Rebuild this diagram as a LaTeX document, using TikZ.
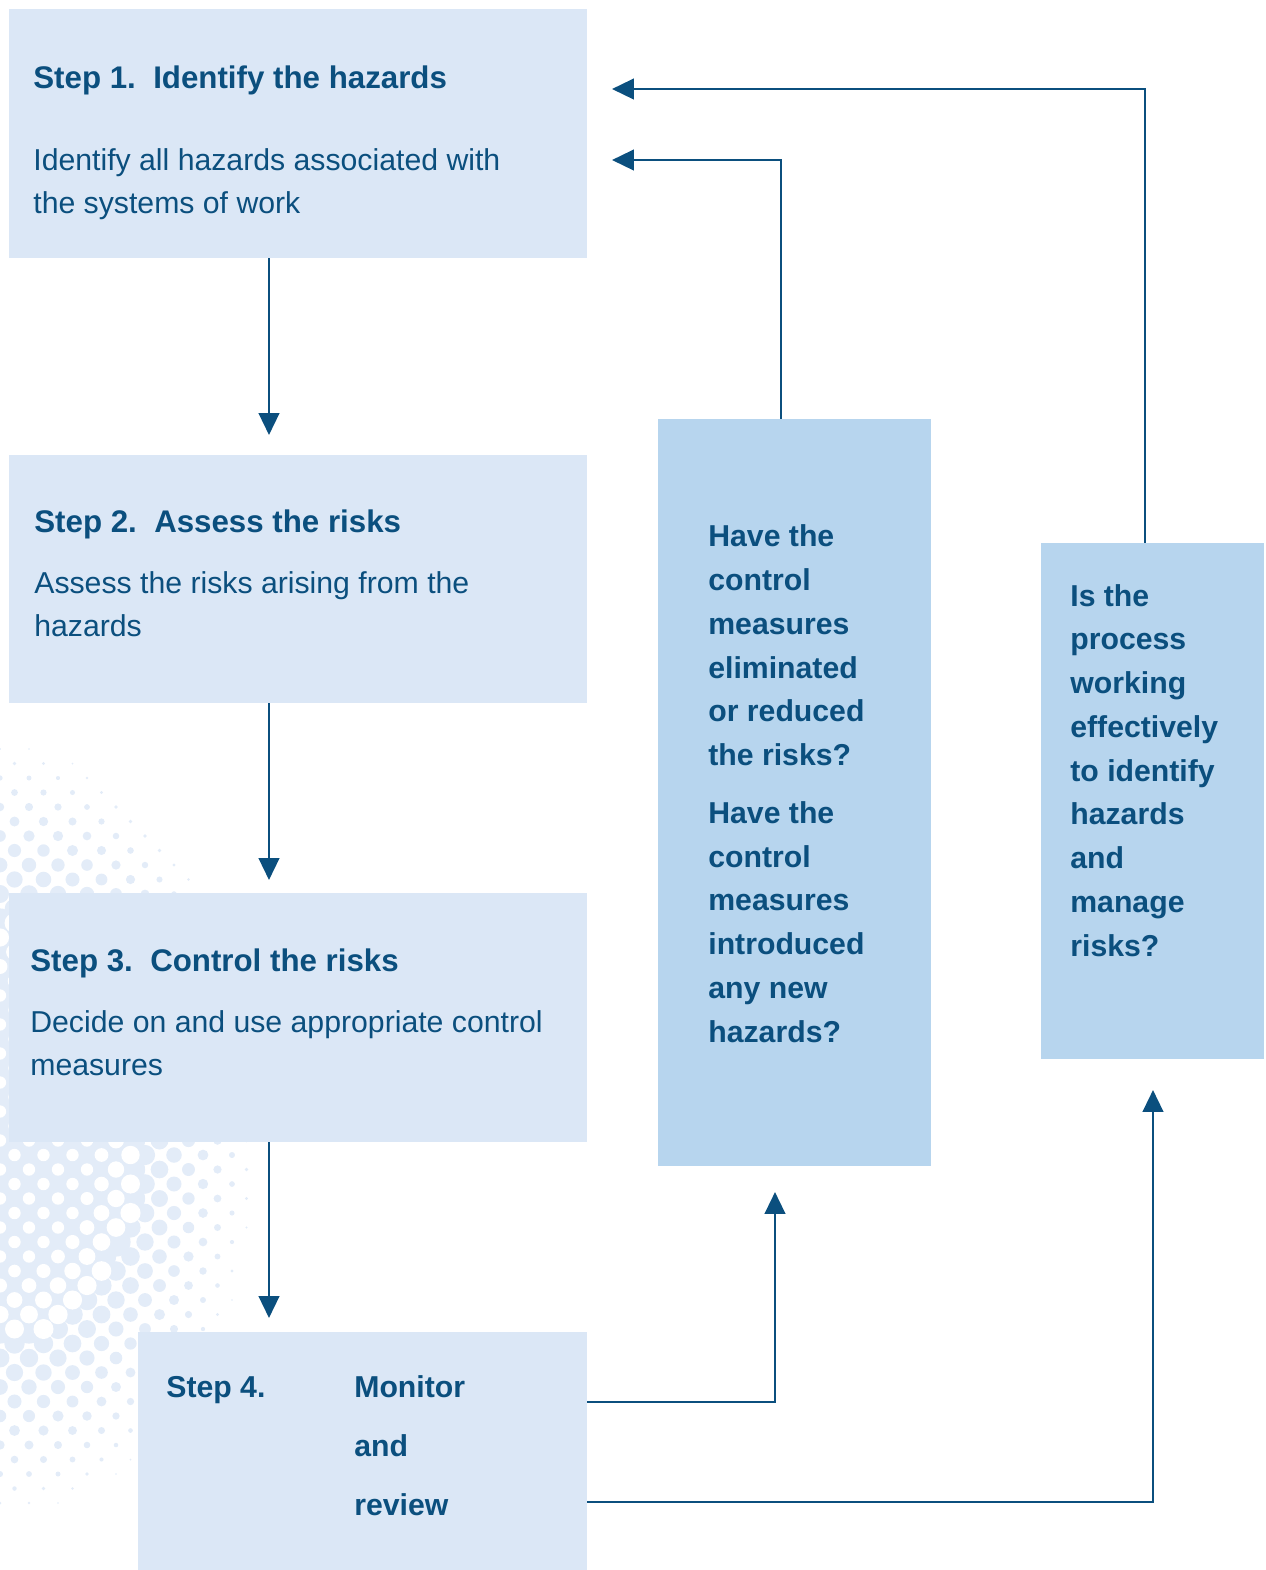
\documentclass[tikz,border=0pt]{standalone}
\usepackage{fontspec}
\setmainfont{Liberation Sans}
\usepackage{xcolor}
\usepackage{tikz}
\usetikzlibrary{backgrounds,arrows.meta,fit}
\definecolor{rkNavy}{HTML}{0B4F7E}
\definecolor{rkPale}{HTML}{DBE7F6}
\definecolor{rkBlue}{HTML}{B7D5EE}
\definecolor{rkDot}{HTML}{E3ECF8}

\begin{document}
\begin{tikzpicture}[
  x=0.02cm, y=-0.02cm,
  stepbox/.style={fill=rkPale, inner sep=0pt, draw=none},
  checkbox/.style={fill=rkBlue, inner sep=0pt, draw=none},
  stitle/.style={anchor=base west, inner sep=0pt, text=rkNavy, font=\fontsize{17.8}{24.4}\selectfont\bfseries},
  sbody/.style={anchor=base west, inner sep=0pt, text=rkNavy, align=left, font=\fontsize{17.2}{24.4}\selectfont},
  ask/.style={anchor=base west, inner sep=0pt, text=rkNavy, align=left, font=\fontsize{17.2}{24.9}\selectfont\bfseries},
  flow/.style={-{Triangle[length=12.5pt, width=11.7pt]}, line width=1.5pt, draw=rkNavy},
]
\useasboundingbox (0,0) rectangle (1266,1570);

% ── Steps (left column) ──────────────────────────────────────────────────────
\node[stepbox, fit={(9,9) (587,258)}]      (s1) {};
\node[stepbox, fit={(9,455) (587,703)}]    (s2) {};
\node[stepbox, fit={(9,893) (587,1142)}]   (s3) {};
\node[stepbox, fit={(138,1332) (587,1570)}] (s4) {};

% multi-line texts sit on the baseline of their last line
\node[stitle] (t1) at (33,88)  {Step 1.\ \ Identify the hazards};
\node[sbody]  (b1) at (33,213) {Identify all hazards associated with\\the systems of work};
\node[stitle] (t2) at (34,532) {Step 2.\ \ Assess the risks};
\node[sbody]  (b2) at (34,636) {Assess the risks arising from the\\hazards};
\node[stitle] (t3) at (30,971) {Step 3.\ \ Control the risks};
\node[sbody]  (b3) at (30,1075) {Decide on and use appropriate control\\measures};
\node[ask, font=\fontsize{17.2}{33.4}\selectfont\bfseries] (t4) at (166,1397) {Step 4.};
\node[ask, font=\fontsize{17.2}{33.4}\selectfont\bfseries] (b4) at (354,1515) {Monitor\\and\\review};

% ── Review questions (right) ─────────────────────────────────────────────────
\node[checkbox, fit={(658,419) (931,1166)}]  (q1) {};
\node[checkbox, fit={(1041,543) (1264,1059)}] (q2) {};

\node[ask] (a1) at (708,1042) {Have the\\control\\measures\\eliminated\\or reduced\\the risks?\\[7.9pt]Have the\\control\\measures\\introduced\\any new\\hazards?};
\node[ask] (a2) at (1070,956) {Is the\\process\\working\\effectively\\to identify\\hazards\\and\\manage\\risks?};

% ── Free ends and bends ──────────────────────────────────────────────────────
\coordinate (d12) at (269,435);
\coordinate (d23) at (269,880);
\coordinate (d34) at (269,1318);
\coordinate (k1) at (781,160);  \coordinate (f1) at (612,160);
\coordinate (k2) at (1145,89);  \coordinate (f2) at (612,89);
\coordinate (k3) at (775,1402); \coordinate (u1) at (775,1192);
\coordinate (k4) at (1153,1502); \coordinate (u2) at (1153,1090);

% down the steps
\draw[flow] (d12 |- s1.south) -- (d12);
\draw[flow] (d23 |- s2.south) -- (d23);
\draw[flow] (d34 |- s3.south) -- (d34);

% monitor -> questions
\draw[flow] (s4.east |- k3) -- (k3) -- (u1);
\draw[flow] (s4.east |- k4) -- (k4) -- (u2);

% questions -> back to step 1
\draw[flow] (q1.north -| k1) -- (k1) -- (f1);
\draw[flow] (q2.north -| k2) -- (k2) -- (f2);

% ── Background: halftone dots (blue dots, then white holes where they merge) ─
\begin{scope}[on background layer]
  \foreach \i in {0,...,20}{
    \foreach \j in {0,...,54}{
      \pgfmathsetmacro\dx{\i*14.5}
      \pgfmathsetmacro\dy{720 + \j*14.5}
      \pgfmathtruncatemacro\odd{mod(\i+\j,2)}
      \pgfmathsetmacro\rb{22*(1 - sqrt((\dx/270)^2 + ((\dy-1130)/400)^2))}
      \ifnum\odd=0
        \ifdim\rb pt>10.3pt \fill[rkDot] (\dx,\dy) circle[radius=14.6];
        \else\ifdim\rb pt>0.8pt \fill[rkDot] (\dx,\dy) circle[radius=\rb]; \fi\fi
      \fi
    }
  }
  \foreach \i in {0,...,20}{
    \foreach \j in {0,...,54}{
      \pgfmathsetmacro\dx{\i*14.5}
      \pgfmathsetmacro\dy{720 + \j*14.5}
      \pgfmathtruncatemacro\odd{mod(\i+\j,2)}
      \pgfmathsetmacro\rb{22*(1 - sqrt((\dx/270)^2 + ((\dy-1130)/400)^2))}
      \ifnum\odd=1
        \ifdim\rb pt>10.3pt
          \pgfmathsetmacro\rw{max(6.2, 20.5-\rb)}
          \fill[white] (\dx,\dy) circle[radius=\rw];
        \fi
      \fi
    }
  }
\end{scope}

\end{tikzpicture}
\end{document}
